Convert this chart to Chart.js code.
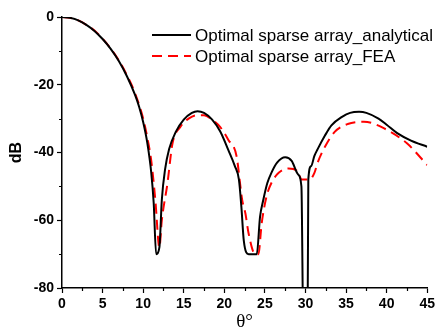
<!DOCTYPE html>
<html>
<head>
<meta charset="utf-8">
<script src="https://cdn.jsdelivr.net/npm/chart.js@4.4.1/dist/chart.umd.min.js"></script>
<style>
    html, body { margin: 0; padding: 0; background: #fff; }
    #wrap { width: 438px; height: 335px; }
</style>
</head>
<body>
<div id="wrap"><canvas id="chart-pattern"></canvas></div>
<script>
// Diagramme de rayonnement
const seriesLabels = ['Optimal sparse array_analytical', 'Optimal sparse array_FEA'];

const thetaAnalytique = [0, 1, 2, 3, 4, 5, 6, 7, 8, 9, 9.5, 10, 10.5, 11, 11.3, 11.6, 12, 12.3, 12.7, 13.2, 14, 15, 16, 16.7,
    17.5, 18.5, 19.5, 20.5, 21.3, 21.8, 22.1, 22.4, 23, 24, 24.4, 24.8, 25.3, 25.8, 26.5, 27.5, 28.3, 29.1, 29.5, 29.75,
    30.25, 30.35, 30.7, 31.1, 31.5, 32.4, 33.2, 34.5, 35.5, 36.6, 37.5, 39, 40, 41.3, 43, 45];
const dbAnalytique = [0, -0.25, -1.0, -2.3, -4.1, -6.5, -9.4, -13, -17.5, -23, -26.5, -31, -37, -46, -55, -70, -68, -54, -45, -39, -34, -30.3, -28.3, -27.8,
    -28.3, -30.3, -33.8, -39.3, -44, -48, -56, -66, -70, -70, -59, -54, -49, -46, -43, -41.4, -42.5, -46.5, -50, -95,
    -95, -48, -44, -41, -39, -35, -32, -29.5, -28.3, -28, -28.3, -30, -31.8, -34.3, -36.5, -38.3];

const thetaFEA = [0, 1, 2, 3, 4, 5, 6, 7, 8, 9, 10, 10.5, 11, 11.5, 12, 12.3, 13, 13.6, 14.6, 15.6, 16.6, 17.5, 18.5, 19.5,
    20.5, 21.5, 22.2, 22.6, 23, 23.8, 24.2, 24.6, 25.2, 25.8, 26.7, 27.9, 29.1, 29.5, 30.5, 31.1, 31.5, 32.4, 33.6, 35.2,
    37.2, 39.7, 42.5, 45];
const dbFEA = [0, -0.25, -1.0, -2.3, -4.0, -6.4, -9.3, -12.8, -17.2, -22.5, -30, -35.5, -42.5, -54, -68, -60, -49, -37.5, -32.4, -30, -29, -29, -30.3, -32.5,
    -36.3, -41, -54, -58, -64, -70, -70, -61, -53, -49, -46, -44.7, -45.7, -48, -48, -46, -43, -38.3, -33.9, -31.6,
    -30.9, -32.9, -37.3, -43.7];

const xTicks = [0, 5, 10, 15, 20, 25, 30, 35, 40, 45];
const xMinorTicks = [2.5, 7.5, 12.5, 17.5, 22.5, 27.5, 32.5, 37.5, 42.5];
const yTicks = [-80, -60, -40, -20, 0];
const yMinorTicks = [-70, -50, -30, -10];

const toPoints = (xs, ys) => xs.map((x, i) => ({ x: x, y: ys[i] }));

// Petites graduations + légende dans la zone du graphique
const decorPlugin = {
    id: 'decor',
    afterDraw(chart) {
        const ctx = chart.ctx;
        const area = chart.chartArea;
        const sx = chart.scales.x;
        const sy = chart.scales.y;
        ctx.save();
        ctx.strokeStyle = '#000';
        ctx.lineWidth = 1.2;
        ctx.beginPath();
        xMinorTicks.forEach(v => {
            const px = Math.round(sx.getPixelForValue(v)) + 0.5;
            ctx.moveTo(px, area.bottom);
            ctx.lineTo(px, area.bottom + 3);
        });
        yMinorTicks.forEach(v => {
            const py = Math.round(sy.getPixelForValue(v)) + 0.5;
            ctx.moveTo(area.left - 3, py);
            ctx.lineTo(area.left, py);
        });
        ctx.stroke();

        // Légende
        ctx.font = '17px "Liberation Sans", Arial, sans-serif';
        ctx.textBaseline = 'middle';
        ctx.fillStyle = '#000';
        chart.data.datasets.forEach((ds, i) => {
            const y = 35 + i * 21;
            ctx.strokeStyle = ds.borderColor;
            ctx.lineWidth = ds.borderWidth;
            ctx.setLineDash(ds.borderDash || []);
            ctx.beginPath();
            ctx.moveTo(152, y);
            ctx.lineTo(191, y);
            ctx.stroke();
            ctx.setLineDash([]);
            ctx.fillText(ds.label, 195, y + 1);
        });
        ctx.restore();
    }
};

const tickFont = { family: '"Liberation Sans", Arial, sans-serif', size: 14, weight: 'bold' };

new Chart(document.getElementById('chart-pattern'), {
    type: 'line',
    data: {
        datasets: [{
            label: seriesLabels[0],
            data: toPoints(thetaAnalytique, dbAnalytique),
            borderColor: '#000000',
            borderWidth: 2,
            pointRadius: 0,
            cubicInterpolationMode: 'monotone'
        }, {
            label: seriesLabels[1],
            data: toPoints(thetaFEA, dbFEA),
            borderColor: '#ff0000',
            borderWidth: 2,
            borderDash: [10, 6],
            pointRadius: 0,
            cubicInterpolationMode: 'monotone'
        }]
    },
    options: {
        responsive: true,
        maintainAspectRatio: false,
        animation: false,
        layout: { padding: { top: 17, right: 8, left: 0, bottom: 0 } },
        plugins: {
            legend: { display: false },
            tooltip: { enabled: false }
        },
        scales: {
            x: {
                type: 'linear',
                min: 0,
                max: 45,
                afterBuildTicks: s => { s.ticks = xTicks.map(v => ({ value: v })); },
                afterFit: s => { s.height = 47; },
                ticks: { font: tickFont, color: '#000', padding: 3, maxRotation: 0 },
                grid: { drawOnChartArea: false, drawTicks: true, tickLength: 5, tickColor: '#000', tickWidth: 1.2 },
                border: { color: '#000', width: 1.5 },
                title: {
                    display: true,
                    text: 'θ°',
                    color: '#000',
                    font: { family: '"Liberation Serif", "Times New Roman", serif', size: 19 },
                    padding: { top: 0, bottom: 2 }
                }
            },
            y: {
                min: -80,
                max: 0,
                afterBuildTicks: s => { s.ticks = yTicks.map(v => ({ value: v })); },
                afterFit: s => { s.width = 62; },
                ticks: { font: tickFont, color: '#000', padding: 3 },
                grid: { drawOnChartArea: false, drawTicks: true, tickLength: 5, tickColor: '#000', tickWidth: 1.2 },
                border: { color: '#000', width: 1.5 },
                title: {
                    display: true,
                    text: 'dB',
                    color: '#000',
                    font: { family: '"Liberation Sans", Arial, sans-serif', size: 16, weight: 'bold' },
                    padding: { top: 7, bottom: 0 }
                }
            }
        }
    },
    plugins: [decorPlugin]
});
</script>
</body>
</html>
